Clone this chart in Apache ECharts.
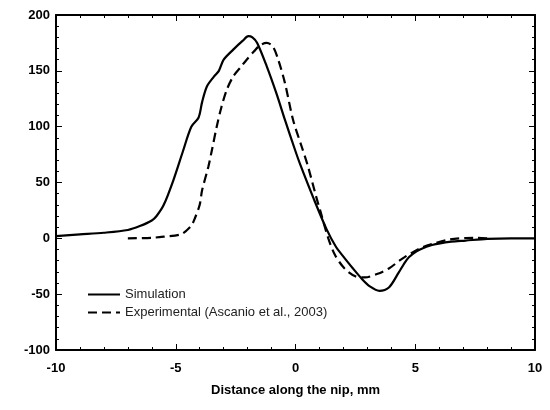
<!DOCTYPE html>
<html>
<head>
<meta charset="utf-8">
<script src="https://cdn.jsdelivr.net/npm/echarts@6/dist/echarts.min.js"></script>
<style>
  html, body { margin: 0; padding: 0; background: #fff; }
  #chart { width: 550px; height: 410px; }
</style>
</head>
<body>
<div id="chart"></div>
<script>
// simulation curve, [distance mm, value]
const simX = [-10, -9, -8, -7, -6.5, -6, -5.8, -5.5, -5.1, -4.7, -4.35, -4.05, -3.9, -3.7, -3.4, -3.2, -3.0, -2.6, -2.2, -1.97, -1.8, -1.6, -1.2, -0.8, -0.44, 0, 0.2, 0.75, 1.3, 1.7, 1.95, 2.4, 2.8, 3.1, 3.5, 3.9, 4.3, 4.65, 4.9, 5.2, 5.7, 6.5, 7.1, 8, 9, 10];
const simY = [2, 3.5, 5, 7.5, 11, 16, 20, 30, 52, 78, 100, 108, 122, 136, 145, 150, 160, 169, 177, 181, 180, 175, 154, 130, 106, 78, 66, 36, 8, -8, -15, -27, -37, -43, -47, -44, -31, -19, -14, -10, -6, -3, -2, -0.5, 0, 0];

// experimental curve (Ascanio et al., 2003)
const expX = [-7, -6, -5.5, -4.8, -4.55, -4.33, -4.2, -4.0, -3.9, -3.64, -3.5, -3.29, -3.1, -2.87, -2.6, -2.3, -2.04, -1.75, -1.48, -1.2, -0.95, -0.72, -0.44, -0.1, 0.26, 0.5, 0.88, 1.03, 1.37, 1.65, 2.05, 2.5, 2.9, 3.4, 3.9, 4.4, 4.85, 5.3, 5.8, 6.45, 7.1, 7.6, 8];
const expY = [0, 0.5, 1.5, 3.5, 7, 12, 18, 30, 43, 64, 78, 100, 117, 133, 145, 153, 160, 167, 173, 175, 172, 160, 139, 106, 82, 66, 36, 25, 0, -15, -27, -34, -35, -32, -27, -19, -13, -8, -4.5, -1, 0.3, 0.5, 0];

const seriesNames = ['Simulation', 'Experimental (Ascanio et al., 2003)'];
const xTicks = [-10, 10, 5];
const yTicks = [-100, 200, 50];

const zip = (xs, ys) => xs.map((x, i) => [x, ys[i]]);

const chart = echarts.init(document.getElementById('chart'));

const labelFont = {
  fontFamily: 'Liberation Sans, Arial, sans-serif',
  fontWeight: 'bold',
  fontSize: 13,
  color: '#000'
};

const frameAxis = {
  axisLine: { show: true, onZero: false, lineStyle: { color: '#000', width: 2 } },
  axisTick: { show: true, inside: true, length: 6, lineStyle: { color: '#000', width: 1 } },
  minorTick: { show: true, splitNumber: 5, length: 3, lineStyle: { color: '#000', width: 1 } },
  splitLine: { show: false }
};

const option = {
  animation: false,
  backgroundColor: '#fff',
  grid: { left: 56, right: 15, top: 15, bottom: 60 },
  legend: {
    orient: 'vertical',
    left: 87,
    top: 288,
    padding: 0,
    itemWidth: 32,
    itemHeight: 10,
    itemGap: 5,
    // hide the point symbol, keep only the line sample
    itemStyle: { color: 'transparent', borderColor: 'transparent', borderWidth: 0 },
    data: seriesNames,
    textStyle: {
      fontFamily: 'Liberation Sans, Arial, sans-serif',
      fontSize: 13,
      color: '#222'
    }
  },
  xAxis: [
    Object.assign({
      type: 'value',
      position: 'bottom',
      min: xTicks[0], max: xTicks[1], interval: xTicks[2],
      name: 'Distance along the nip, mm',
      nameLocation: 'middle',
      nameGap: 34,
      nameTextStyle: labelFont,
      axisLabel: Object.assign({ margin: 12 }, labelFont)
    }, frameAxis),
    Object.assign({
      type: 'value',
      position: 'top',
      min: xTicks[0], max: xTicks[1], interval: xTicks[2],
      axisLabel: { show: false }
    }, frameAxis)
  ],
  yAxis: [
    Object.assign({
      type: 'value',
      position: 'left',
      min: yTicks[0], max: yTicks[1], interval: yTicks[2],
      axisLabel: Object.assign({ margin: 6 }, labelFont)
    }, frameAxis),
    Object.assign({
      type: 'value',
      position: 'right',
      min: yTicks[0], max: yTicks[1], interval: yTicks[2],
      axisLabel: { show: false }
    }, frameAxis)
  ],
  series: [
    {
      name: seriesNames[0],
      type: 'line',
      data: zip(simX, simY),
      showSymbol: false,
      symbol: 'none',
      smooth: 0.3,
      lineStyle: { color: '#000', width: 2.2 },
      itemStyle: { color: '#000' }
    },
    {
      name: seriesNames[1],
      type: 'line',
      data: zip(expX, expY),
      showSymbol: false,
      symbol: 'none',
      smooth: 0.3,
      lineStyle: { color: '#000', width: 2.2, type: [9, 5] },
      itemStyle: { color: '#000' }
    }
  ]
};

chart.setOption(option);
</script>
</body>
</html>
